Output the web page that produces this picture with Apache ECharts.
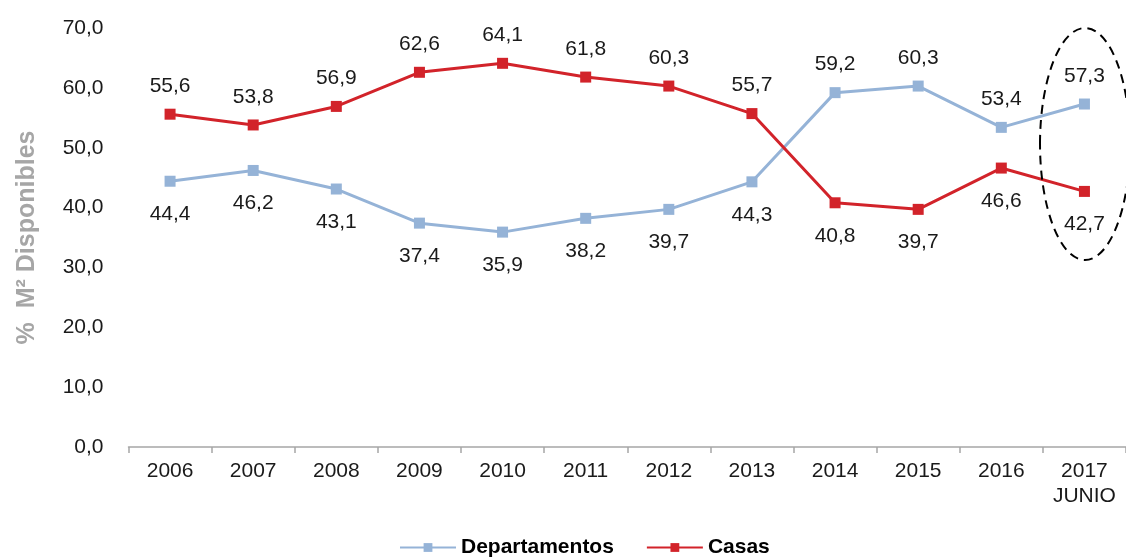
<!DOCTYPE html>
<html><head><meta charset="utf-8">
<script src="https://cdn.jsdelivr.net/npm/echarts@6/dist/echarts.min.js"></script>
<style>html,body{margin:0;padding:0;background:#fff}#c{width:1126px;height:557px}</style>
</head><body><div id="c"></div>
<script>
const categories = ['2006','2007','2008','2009','2010','2011','2012','2013','2014','2015','2016','2017\nJUNIO'];
const departamentos = [44.4,46.2,43.1,37.4,35.9,38.2,39.7,44.3,59.2,60.3,53.4,57.3];
const casas = [55.6,53.8,56.9,62.6,64.1,61.8,60.3,55.7,40.8,39.7,46.6,42.7];
const yTicks = [0,10,20,30,40,50,60,70];

const font = 'Liberation Sans, Arial, sans-serif';
function fmt(v){ return v.toFixed(1).replace('.', ','); }
function mk(vals, other){
  return vals.map((v,i)=>{
    const up = v>=other[i];
    return {value:v, label:{position: up ? 'top':'bottom', distance: up ? 12 : 17}};
  });
}
const chart = echarts.init(document.getElementById('c'));
chart.setOption({
  animation:false,
  grid:{left:128.5,right:-3,top:28,bottom:110},
  xAxis:{type:'category',data:categories,boundaryGap:true,
    axisLine:{lineStyle:{color:'#A6A6A6',width:1.5}},
    axisTick:{show:true,length:6,lineStyle:{color:'#A6A6A6',width:1.5}},
    axisLabel:{color:'#1a1a1a',fontFamily:font,fontSize:21,margin:12,lineHeight:25,interval:0}},
  yAxis:{type:'value',min:yTicks[0],max:yTicks[yTicks.length-1],interval:10,
    name:'%  M² Disponibles',nameLocation:'middle',nameGap:89,nameRotate:90,
    nameTextStyle:{color:'#A6A6A6',fontFamily:font,fontSize:25,fontWeight:'bold'},
    axisLine:{show:false},axisTick:{show:false},splitLine:{show:false},
    axisLabel:{color:'#1a1a1a',fontFamily:font,fontSize:21,margin:25,formatter:v=>fmt(v)}},
  legend:{bottom:-6,left:394,itemWidth:56,itemHeight:11,itemGap:32,
    textStyle:{color:'#000',fontFamily:font,fontSize:21,fontWeight:'bold'},
    data:['Departamentos','Casas']},
  series:[
    {name:'Departamentos',type:'line',data:mk(departamentos,casas),symbol:'rect',symbolSize:11,
     lineStyle:{color:'#95B3D7',width:3},itemStyle:{color:'#95B3D7'},
     label:{show:true,color:'#1a1a1a',fontFamily:font,fontSize:21,formatter:p=>fmt(p.value)}},
    {name:'Casas',type:'line',data:mk(casas,departamentos),symbol:'rect',symbolSize:11,
     lineStyle:{color:'#D2232A',width:3},itemStyle:{color:'#D2232A'},
     label:{show:true,color:'#1a1a1a',fontFamily:font,fontSize:21,formatter:p=>fmt(p.value)}}
  ],
  graphic:[{type:'ellipse',shape:{cx:1085,cy:144,rx:45,ry:116},
    style:{fill:'none',stroke:'#000',lineWidth:2,lineDash:[9,6]},z:10}]
});
</script></body></html>
